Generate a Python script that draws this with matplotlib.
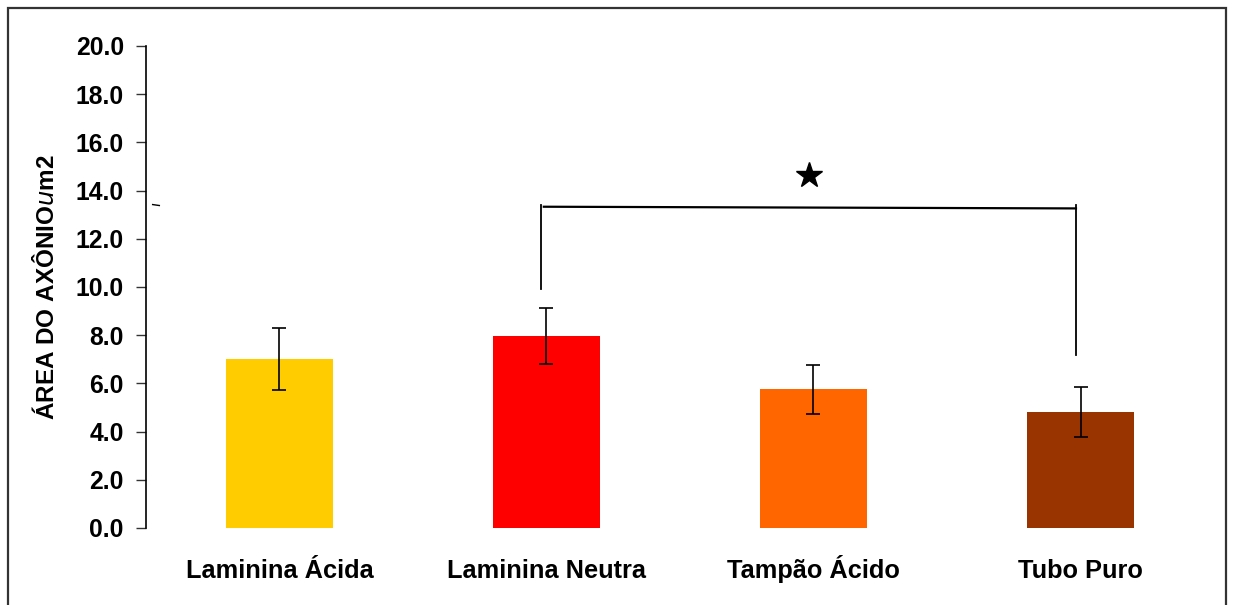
import matplotlib.pyplot as plt
from matplotlib.patches import Rectangle

# Axon area per group (mean and error)
grupos = ['Laminina Ácida', 'Laminina Neutra', 'Tampão Ácido', 'Tubo Puro']
medias = [7.0, 7.97, 5.75, 4.82]
erros = [1.28, 1.15, 1.03, 1.04]
cores = ['#FFCC00', '#FF0000', '#FF6600', '#993300']
y_ticks = [0.0, 2.0, 4.0, 6.0, 8.0, 10.0, 12.0, 14.0, 16.0, 18.0, 20.0]

# significance bracket between Laminina Neutra and Tubo Puro
par_sig = (1, 3)
altura_sig = 13.3

plt.rcParams['font.family'] = ['Liberation Sans', 'DejaVu Sans']

fig = plt.figure(figsize=(12.34, 6.05), dpi=100)
ax = fig.add_axes([0.1183, 0.1273, 0.8655, 0.7967])

x = list(range(len(grupos)))
ax.bar(x, medias, width=0.4, color=cores, zorder=2)
ax.errorbar(x, medias, yerr=erros, fmt='none', ecolor='black',
            elinewidth=1.2, capsize=5, capthick=1.2, zorder=3)

ax.set_xlim(-0.5, 3.5)
ax.set_ylim(0, 20)
ax.set_yticks(y_ticks)
ax.set_yticklabels([f'{v:.1f}' for v in y_ticks], fontsize=17.8, fontweight='bold')
ax.set_xticks(x)
ax.set_xticklabels(grupos, fontsize=18.3, fontweight='bold')
for rotulo in ax.get_xticklabels():
    rotulo.set_verticalalignment('baseline')
ax.tick_params(axis='x', length=0, pad=36)
ax.tick_params(axis='y', length=7, width=1, color='#333333', pad=9, direction='out')

for lado in ['top', 'right', 'bottom']:
    ax.spines[lado].set_visible(False)
ax.spines['left'].set_linewidth(1.2)

ax.set_ylabel('ÁREA DO AXÔNIO$\\it{u}$m2', fontsize=17.5, fontweight='bold', labelpad=12)

# bracket with star
a, b = par_sig
xa, xb = a - 0.02, b - 0.017
ax.plot([xa, xa], [altura_sig + 0.1, medias[a] + erros[a] + 0.8], color='black', lw=1.3, zorder=4)
ax.plot([xb, xb], [altura_sig + 0.1, medias[b] + erros[b] + 1.3], color='black', lw=1.3, zorder=4)
ax.plot([xa + 0.01, xb], [altura_sig + 0.03, altura_sig - 0.04], color='black', lw=1.6, zorder=4)
ax.plot([(xa + xb) / 2], [altura_sig + 1.35], marker='*', markersize=19,
        color='black', zorder=4)

# small stray stroke near the axis
ax.plot([-0.475, -0.45], [13.42, 13.38], color='black', lw=1.0, clip_on=False)

# outer frame
fig.patches.append(Rectangle((8 / 1234, -0.05), 1218 / 1234, 1.05 - 8 / 605,
                             transform=fig.transFigure, fill=False,
                             edgecolor='#333333', linewidth=1.6))

fig.savefig('out.png', dpi=100)
